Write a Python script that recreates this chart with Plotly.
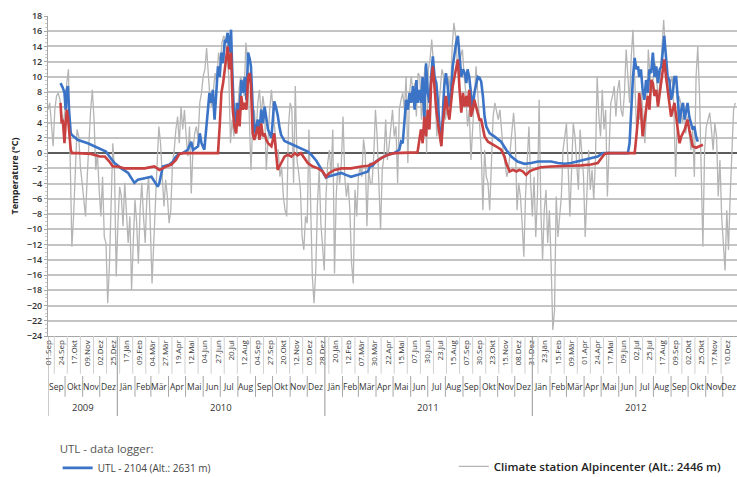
import datetime as dt
import plotly.graph_objects as go

# ---------------------------------------------------------------------------
# Data
# ---------------------------------------------------------------------------
START = dt.date(2009, 9, 1)

# Climate station Alpincenter, daily mean temperature sampled every 3 days
GRAY_STEP_DAYS = 3
GRAY_TEMP = [
    5.7, 6.6, 3.9, 0.9, 5.7, 7.5, 7.9, 7.0, 5.3, 3.9, 5.7, 9.2, 11.0, 1.3, -12.3, -8.3, -2.2, 3.1,
    2.2, -1.8, -3.9, -6.6, -8.3, -3.1, 2.2, 5.7, 8.3, 4.4, -2.2, 0.0, -4.8, -8.3, -3.1, -11.0,
    -11.8, -19.7, -14.9, -5.7, 1.3, -2.2, -16.2, -9.2, -4.4, -5.7, -9.6, -3.9, -7.5, -11.8, -8.3,
    -18.0, -11.8, -6.1, -9.2, -14.5, -7.5, -3.9, -8.3, -11.8, -5.7, -3.1, -9.6, -17.1, -11.8, -5.7,
    -1.3, 3.5, 1.3, -3.1, -7.0, -3.5, -5.7, -9.2, -7.5, -1.3, 0.4, 3.1, 4.8, 1.3, 6.1, 3.1, 5.7,
    2.2, -0.4, 3.5, -5.3, 0.4, 2.6, 3.5, 1.8, 6.6, 7.9, 10.1, 11.0, 13.8, 10.1, 7.0, 6.1, 8.3,
    10.5, 9.2, 13.2, 11.8, 14.5, 15.4, 14.9, 12.7, 10.1, 1.3, 4.4, 2.2, 6.6, 4.4, 8.3, 10.1, 9.2,
    7.5, 14.5, 12.3, 5.7, -2.2, 3.5, 5.7, 2.2, 6.6, 8.3, 4.8, 7.5, 5.7, -2.2, 2.2, 5.7, 8.3, 5.7,
    2.2, 0.4,
    0.4, -3.1, -1.8, -5.7, -7.5, -8.3, 3.5, 6.6, 5.7, -3.9, 8.8, -0.9, -2.6, -4.8, -11.0, -12.7,
    -8.3, -9.2, 3.1, -8.3, -16.2, -19.7, -15.4, -6.6, -2.2, -9.2, -11.8, -15.4, -5.7, -1.3, 0.4,
    -3.1, 3.1, -15.8, -5.7, -1.3, -3.9, -1.3, 4.8, -3.1, -5.7, -3.9, -7.5, -14.5, -17.1, -4.8,
    -8.3, -3.1, -1.8, -3.1, 1.8, 0.0, -9.6, -2.2, -3.9, -3.9, -0.4, 5.7, 2.2, -5.3, -10.1, -2.2,
    -0.4, 4.4, -0.9, 0.9, 3.1, 5.7, 2.2, 3.5, -3.9, 5.7, 7.0, 7.9, 5.7, 10.1, -1.3, 7.9, 10.1,
    7.9, 9.2, 4.8, 10.5, 10.1, 4.4, 7.5, 11.4, 0.0, 11.0, 12.3, 14.9, 11.8, 6.6, 2.2, 5.7, 7.9,
    11.0, 10.1, 4.4, 5.7, 10.1, 7.9, 14.0, 17.1, 15.4, 11.8, 10.5, 12.7, 13.6, 10.1, 7.9, 3.5,
    5.7, -0.9, 3.9, 7.9, 11.4, 7.9, 3.5, 0.4, -7.5, 0.4, -3.1, -3.9, -7.5, -0.4, 4.8, 6.6, 5.7,
    4.4, 5.7, 2.2, 0.0, -1.3, -3.1,
    -2.2, 0.4, 3.5, 5.3, 2.2, -7.5, -3.9, -5.7, -9.2, -13.6, -5.7, -0.9, 3.5, -3.9, -8.3, -3.1,
    -11.0, -5.7, 7.0, -7.5, -14.0, -7.5, -4.8, -11.8, -7.5, -14.5, -23.2, -20.6, -5.7, -11.0,
    -8.3, -5.7, 0.4, 2.2, 3.9, -1.8, -8.3, -2.2, 3.9, 2.2, -2.2, -4.8, 3.1, 0.4, -3.1, -11.0,
    -3.9, 0.4, -4.8, -2.2, -6.1, -0.9, 10.1, 4.8, 2.2, 8.3, 3.1, 5.7, -5.7, 0.4, 6.6, 7.5, 8.8,
    4.8, 8.3, 9.6, 5.7, 4.8, 7.9, 13.6, 9.2, 6.6, 12.7, 16.2, 10.1, 3.5, 5.7, 4.4, 7.9, 3.9, 1.3,
    5.7, 13.6, 10.1, 7.9, 10.1, 11.8, 9.2, 7.0, 10.1, 14.5, 17.5, 13.6, 10.1, 6.6, 9.2, 10.1,
    5.7, -3.1, 4.4, 7.5, 6.6, 3.9, 5.7, 2.6, 4.8, 2.2, 0.4, 3.1, -3.1, 10.1, 14.0, 7.9, -2.2,
    -12.3, 0.4, 3.5, 4.4, 5.3, 3.1, 0.4, 3.9, 2.2, -5.7, -0.9, -8.3, -11.8, -15.4, -7.5, -12.7,
    -5.7, 0.4, 5.7, 6.6,
]

# UTL - 2104 logger: (days since START, temperature in degC)
BLUE_POINTS = [
    (22, 9.2), (26, 8.6), (29, 7.9), (31, 5.7), (33, 8.3), (35, 8.8), (37, 5.7), (40, 2.6),
    (42, 2.4), (52, 1.75), (70, 1.3), (82, 0.9), (94, 0.45), (102, 0.2), (108, -0.45),
    (117, -1.3), (129, -2.0), (141, -2.6), (152, -3.9), (158, -3.5), (170, -3.3), (182, -3.1),
    (193, -4.4), (196, -3.9), (202, -1.75), (214, -1.5), (220, -1.1), (225, -0.45), (231, -0.1),
    (237, 0.0), (246, 0.45), (252, 1.5), (255, 0.4), (264, 0.9), (267, 2.6), (270, 1.3),
    (275, 0.45), (281, 5.7), (284, 7.9), (287, 6.6), (290, 8.3), (293, 4.4), (296, 7.5),
    (299, 11.4), (302, 10.0), (305, 13.2), (308, 11.8), (311, 14.9), (313, 14.5), (316, 15.8),
    (319, 13.2), (322, 16.2), (324, 11.0), (327, 5.3), (330, 3.9), (333, 6.6), (336, 4.4),
    (340, 9.6), (343, 7.9), (346, 10.0), (349, 7.0), (352, 13.2), (355, 12.3), (357, 11.4),
    (360, 6.1), (363, 2.6), (369, 4.4), (372, 2.6), (375, 5.7), (378, 3.9), (381, 6.1),
    (384, 4.8), (387, 3.1), (393, 2.0), (398, 6.8), (401, 6.0), (404, 5.0), (407, 3.5),
    (410, 2.4), (416, 1.6), (428, 1.2), (439, 0.9), (451, 0.4), (457, 0.2), (463, -0.2),
    (472, -1.0), (480, -2.0), (489, -3.2), (492, -3.1), (504, -2.85), (516, -2.6), (524, -2.85),
    (533, -3.1), (545, -2.85), (557, -2.6), (563, -2.4), (568, -1.3), (570, -1.75), (577, -1.1),
    (586, -0.65), (598, -0.2), (609, 0.0), (618, 0.45), (621, 1.5), (624, 1.3), (627, 3.9),
    (630, 7.0), (633, 5.7), (636, 7.9), (639, 6.6), (642, 8.8), (645, 5.7), (648, 9.6),
    (650, 6.6), (653, 8.3), (656, 6.6), (659, 10.0), (662, 4.4), (665, 11.8), (668, 7.9),
    (671, 6.6), (674, 10.0), (677, 12.7), (680, 10.0), (683, 9.2), (686, 6.6), (689, 3.1),
    (692, 1.3), (694, 4.8), (697, 8.8), (700, 10.5), (703, 8.8), (706, 6.1), (709, 7.9),
    (712, 11.4), (715, 13.2), (718, 14.5), (721, 15.4), (724, 12.3), (727, 10.0), (730, 11.0),
    (733, 10.5), (736, 9.2), (738, 11.0), (741, 10.0), (744, 7.5), (747, 5.7), (750, 7.9),
    (753, 9.2), (756, 10.0), (759, 9.9), (762, 9.4), (765, 7.5), (768, 4.8), (771, 3.5),
    (777, 2.6), (785, 2.2), (797, 1.5), (806, 0.45), (815, -0.45), (826, -1.1), (838, -1.4),
    (850, -1.3), (862, -1.1), (873, -1.1), (885, -1.1), (897, -1.3), (909, -1.4), (920, -1.3),
    (932, -1.1), (944, -0.9), (955, -0.65), (967, -0.45), (976, 0.0), (985, 0.0), (1020, 0.0),
    (1023, 1.3), (1026, 5.7), (1029, 10.0), (1032, 12.5), (1035, 11.0), (1038, 11.4),
    (1040, 10.0), (1043, 11.0), (1046, 8.3), (1049, 7.0), (1052, 9.6), (1055, 7.9), (1058, 11.0),
    (1061, 10.5), (1064, 13.2), (1067, 10.0), (1070, 11.4), (1073, 9.2), (1076, 11.0),
    (1079, 11.4), (1081, 13.2), (1084, 15.4), (1087, 12.7), (1090, 10.0), (1093, 9.6),
    (1096, 7.0), (1099, 7.9), (1102, 10.0), (1105, 10.0), (1108, 6.6), (1111, 3.9), (1114, 5.7),
    (1117, 6.6), (1120, 4.4), (1123, 5.7), (1125, 6.6), (1128, 4.8), (1131, 3.9), (1134, 3.1),
    (1137, 3.5), (1140, 2.2), (1143, 1.5),
]

# Second UTL logger: (days since START, temperature in degC)
RED_POINTS = [
    (22, 6.6), (24, 3.9), (26, 4.4), (29, 1.3), (31, 3.9), (33, 5.7), (35, 4.8), (37, 2.6),
    (40, 0.45), (42, 0.0), (52, 0.0), (76, -0.1), (91, -0.45), (100, -0.45), (108, -1.1),
    (114, -1.75), (123, -1.75), (135, -2.0), (152, -2.0), (170, -2.0), (187, -1.75), (196, -2.2),
    (202, -2.0), (208, -1.75), (217, -1.5), (225, -0.9), (231, -0.1), (237, 0.0), (287, 0.0),
    (299, 0.0), (302, 3.5), (305, 7.9), (308, 9.2), (311, 11.0), (313, 12.3), (316, 14.0),
    (319, 11.0), (322, 13.2), (325, 5.7), (328, 3.5), (331, 2.6), (334, 5.7), (337, 3.5),
    (340, 7.5), (343, 5.7), (346, 6.6), (349, 5.7), (352, 10.0), (355, 10.5), (357, 8.8),
    (360, 2.6), (363, 1.75), (369, 3.5), (372, 1.75), (375, 3.9), (378, 2.2), (381, 2.6),
    (384, 1.75), (387, 1.3), (393, 0.9), (398, 2.6), (401, 0.4), (404, -2.2), (407, -1.75),
    (410, -1.3), (416, -0.45), (422, -0.2), (428, -0.45), (434, 0.0), (439, -0.3), (445, 0.0),
    (451, -0.6), (457, -1.3), (466, -1.75), (475, -2.0), (483, -2.4), (489, -3.1), (495, -2.6),
    (504, -2.2), (516, -2.0), (533, -2.0), (551, -1.75), (563, -1.65), (574, -1.3), (586, -0.65),
    (598, -0.2), (609, 0.0), (650, 0.1), (653, 1.75), (656, 3.1), (659, 1.3), (662, 4.8),
    (665, 2.2), (668, 5.7), (671, 3.1), (674, 9.2), (677, 11.4), (680, 7.9), (683, 5.7),
    (686, 3.9), (689, 2.2), (692, 0.9), (694, 3.5), (697, 5.7), (700, 7.5), (703, 5.7),
    (706, 4.4), (709, 6.6), (712, 8.8), (715, 10.0), (718, 11.0), (721, 12.3), (724, 8.3),
    (727, 5.3), (730, 7.9), (733, 6.1), (736, 7.5), (738, 6.1), (741, 8.3), (744, 4.8),
    (747, 5.7), (750, 7.0), (753, 6.1), (756, 5.3), (759, 4.4), (762, 4.4), (765, 3.1),
    (768, 2.2), (774, 1.5), (779, 1.3), (788, 0.9), (797, 0.45), (803, -0.45), (806, -1.3),
    (812, -2.4), (818, -2.2), (824, -2.4), (829, -2.2), (835, -2.4), (841, -2.85), (847, -2.4),
    (856, -2.1), (867, -1.85), (885, -1.75), (903, -1.65), (920, -1.65), (938, -1.6),
    (955, -1.5), (967, -1.3), (973, -0.65), (979, -0.1), (985, 0.0), (1032, 0.0), (1035, 2.2),
    (1038, 4.8), (1040, 7.9), (1043, 5.7), (1046, 2.2), (1049, 4.4), (1052, 5.7), (1055, 7.5),
    (1058, 5.7), (1061, 9.6), (1064, 9.2), (1067, 7.5), (1070, 8.3), (1073, 6.1), (1076, 7.9),
    (1079, 9.2), (1081, 11.0), (1084, 12.3), (1087, 10.1), (1090, 8.3), (1093, 6.1), (1096, 4.8),
    (1099, 5.7), (1102, 6.6), (1105, 4.8), (1108, 3.1), (1111, 1.3), (1114, 2.2), (1117, 2.6),
    (1120, 3.1), (1123, 3.9), (1125, 4.4), (1128, 3.1), (1131, 1.75), (1134, 0.9), (1140, 0.7),
    (1146, 0.9), (1152, 1.1),
]

# Axis labelling
DAY_TICK_STEP = 23
DAY_TICK_LABELS = [
    "01.Sep", "24.Sep", "17.Okt", "09.Nov", "02.Dez", "25.Dez",
    "17.Jän", "09.Feb", "04.Mär", "27.Mär", "19.Apr", "12.Mai", "04.Jun", "27.Jun", "20.Jul",
    "12.Aug", "04.Sep", "27.Sep", "20.Okt", "12.Nov", "05.Dez", "28.Dez",
    "20.Jän", "12.Feb", "07.Mär", "30.Mär", "22.Apr", "15.Mai", "07.Jun", "30.Jun", "23.Jul",
    "15.Aug", "07.Sep", "30.Sep", "23.Okt", "15.Nov", "08.Dez", "31.Dez",
    "23.Jän", "15.Feb", "09.Mär", "01.Apr", "24.Apr", "17.Mai", "09.Jun", "02.Jul", "25.Jul",
    "17.Aug", "09.Sep", "02.Okt", "25.Okt", "17.Nov", "10.Dez",
]
MONTH_NAMES = ["Jän", "Feb", "Mär", "Apr", "Mai", "Jun", "Jul", "Aug", "Sep", "Okt", "Nov", "Dez"]
YEAR_LABELS = [2009, 2010, 2011, 2012]
END = dt.date(2012, 12, 26)


def day(n):
    return START + dt.timedelta(days=n)


gray_x = [day(i * GRAY_STEP_DAYS) for i in range(len(GRAY_TEMP))]
blue_x = [day(d) for d, _ in BLUE_POINTS]
blue_y = [t for _, t in BLUE_POINTS]
red_x = [day(d) for d, _ in RED_POINTS]
red_y = [t for _, t in RED_POINTS]
tick_x = [day(i * DAY_TICK_STEP) for i in range(len(DAY_TICK_LABELS))]

FONT = "Open Sans"
TEXT = "#333333"
SEP = "#a6a6a6"

fig = go.Figure()
fig.add_trace(go.Scatter(
    x=gray_x, y=GRAY_TEMP, mode="lines", name="Climate station Alpincenter (Alt.: 2446 m)",
    line=dict(color="#b5b5b5", width=1.3), legend="legend2",
))
fig.add_trace(go.Scatter(
    x=blue_x, y=blue_y, mode="lines", name="UTL - 2104 (Alt.: 2631 m)",
    line=dict(color="#3b74c6", width=2.6), legend="legend",
))
fig.add_trace(go.Scatter(
    x=red_x, y=red_y, mode="lines", name="UTL logger",
    line=dict(color="#c8403f", width=2.6), showlegend=False,
))

shapes = []
annotations = []

# Separators between the rotated day labels
for i in range(len(tick_x) - 1):
    mid = tick_x[i] + (tick_x[i + 1] - tick_x[i]) / 2
    shapes.append(dict(type="line", xref="x", yref="paper", x0=mid, x1=mid,
                       y0=0, y1=-0.118, line=dict(color="#d0d0d0", width=1)))

# Month and year rows below the rotated day labels
months = []
y, m = 2009, 9
while (y, m) <= (2012, 12):
    months.append(dt.date(y, m, 1))
    m += 1
    if m > 12:
        y, m = y + 1, 1
for i, ms in enumerate(months):
    me = months[i + 1] if i + 1 < len(months) else dt.date(2013, 1, 1)
    mid = ms + (me - ms) / 2
    last = i + 1 == len(months)
    annotations.append(dict(
        x=END if last else mid, y=-0.158, xref="x", yref="paper",
        text=MONTH_NAMES[ms.month - 1], showarrow=False, borderpad=0,
        font=dict(family=FONT, size=8.5, color=TEXT),
        xanchor="right" if last else "center", yanchor="middle",
    ))
    if i > 0 and ms.month != 1:
        shapes.append(dict(type="line", xref="x", yref="paper", x0=ms, x1=ms,
                           y0=-0.125, y1=-0.19, line=dict(color=SEP, width=1)))
for yr in YEAR_LABELS:
    ys = max(dt.date(yr, 1, 1), START)
    ye = dt.date(yr + 1, 1, 1)
    mid = ys + (ye - ys) / 2
    annotations.append(dict(
        x=mid, y=-0.222, xref="x", yref="paper", text=str(yr), showarrow=False,
        font=dict(family=FONT, size=9.5, color=TEXT), xanchor="center", yanchor="middle",
    ))
    if yr > 2009:
        shapes.append(dict(type="line", xref="x", yref="paper", x0=ys, x1=ys,
                           y0=0, y1=-0.25, line=dict(color=SEP, width=1.2)))
shapes.append(dict(type="line", xref="x", yref="paper", x0=START, x1=START,
                   y0=0, y1=-0.25, line=dict(color=SEP, width=1.2)))

fig.update_layout(
    width=737, height=477,
    margin=dict(l=48, r=0, t=16, b=141, autoexpand=False),
    paper_bgcolor="white", plot_bgcolor="white",
    font=dict(family=FONT, color=TEXT),
    shapes=shapes, annotations=annotations,
    legend=dict(
        title=dict(text="UTL - data logger:", font=dict(family=FONT, size=11.5, color="#555555")),
        font=dict(family=FONT, size=10, color="#444444"),
        x=0.014, y=-0.32, xanchor="left", yanchor="top",
        bgcolor="rgba(0,0,0,0)", itemwidth=30,
    ),
    legend2=dict(
        font=dict(family=FONT, size=11.5, color="#222222", weight=600),
        x=0.589, y=-0.362, xanchor="left", yanchor="top",
        bgcolor="rgba(0,0,0,0)", itemwidth=30,
    ),
)
fig.update_xaxes(
    type="date", range=[START, END], automargin=False,
    tickvals=tick_x, ticktext=DAY_TICK_LABELS, tickangle=-90,
    tickfont=dict(family=FONT, size=8, color=TEXT),
    showgrid=False, zeroline=False, ticks="",
    showline=True, linecolor=SEP, linewidth=1,
)
fig.update_yaxes(
    range=[-24, 18], dtick=2, tick0=0, automargin=False,
    tickfont=dict(family=FONT, size=9, color=TEXT, weight=600),
    showgrid=True, gridcolor="#c4c4c4", gridwidth=2,
    zeroline=True, zerolinecolor="#5c5c5c", zerolinewidth=2,
    showline=True, linecolor=SEP, linewidth=1,
    ticks="outside", ticklen=3, tickcolor=SEP,
    minor=dict(dtick=0.5, ticks="outside", ticklen=2, tickcolor="#c8c8c8", showgrid=False),
    title=dict(text="Temperature (°C)", standoff=6,
               font=dict(family=FONT, size=9, color="#222222", weight="bold")),
)

fig.write_html("out.html")
